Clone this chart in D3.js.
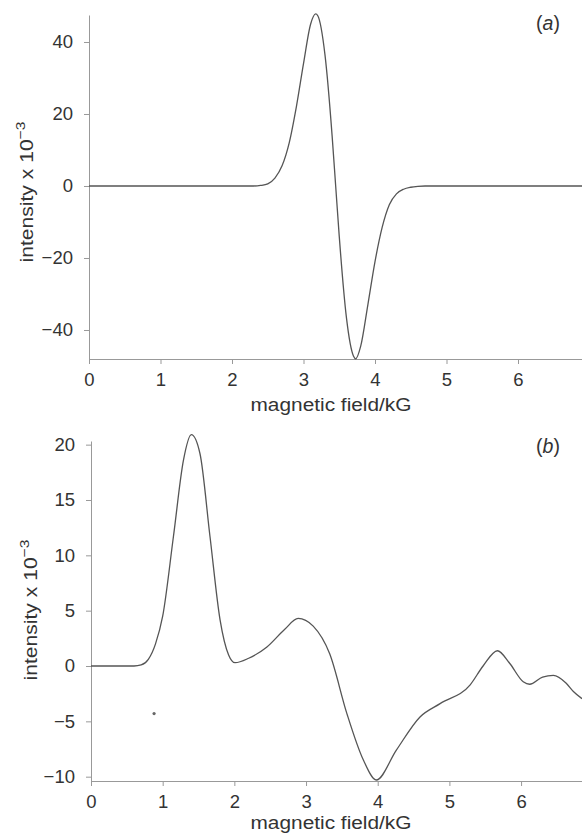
<!DOCTYPE html>
<html>
<head>
<meta charset="utf-8">
<script src="https://cdn.jsdelivr.net/npm/d3@7"></script>
<style>
  body { margin: 0; background: #fff; }
  svg { display: block; }
  text { font-family: "Liberation Sans", Arial, sans-serif; fill: #333; }
</style>
</head>
<body>
<svg id="chart" width="582" height="839"></svg>
<script>
// panel (a): single derivative line
const fieldA = [0, 1, 2, 2.3, 2.4, 2.5, 2.6, 2.7, 2.8, 2.9, 3.0, 3.1, 3.17, 3.2, 3.3, 3.4, 3.45,
                3.5, 3.6, 3.7, 3.73, 3.8, 3.9, 4.0, 4.1, 4.2, 4.3, 4.4, 4.5, 4.6, 4.7, 5, 6, 6.9];
const intensityA = [0, 0, 0, 0, 0.15, 0.6, 2.2, 5.6, 12, 22, 34, 45, 47.8, 47.3, 36.5, 14, 0,
                    -14, -36.5, -47.3, -48, -44.5, -33, -21, -11.5, -5.2, -2.2, -0.9, -0.35, -0.1, 0, 0, 0, 0];

// panel (b): composite spectrum
const fieldB = [0, 0.4, 0.6, 0.7, 0.8, 0.9, 1.0, 1.15, 1.29, 1.40, 1.52, 1.66, 1.8, 1.92, 2.01, 2.2, 2.45,
                2.7, 2.89, 3.1, 3.33, 3.57, 3.8, 3.98, 4.26, 4.59, 4.87, 5.29, 5.47, 5.67,
                5.84, 6.03, 6.12, 6.3, 6.45, 6.63, 6.73, 6.85];
const intensityB = [0, 0, 0, 0.1, 0.6, 2.0, 4.5, 11.7, 18.6, 20.9, 19.2, 11.7, 4.2, 1.0, 0.3, 0.7, 1.7,
                    3.3, 4.3, 3.6, 1.1, -4.3, -8.5, -10.3, -7.6, -4.6, -3.4, -1.7, 0.0, 1.38,
                    0.25, -1.42, -1.65, -1.0, -0.85, -1.56, -2.3, -2.95];

const ticksA = [-40, -20, 0, 20, 40];
const ticksB = [-10, -5, 0, 5, 10, 15, 20];
const fieldTicks = [0, 1, 2, 3, 4, 5, 6];

// a scanner speck in panel (b)
const speck = [{x: 0.88, y: -4.3}];

const svg = d3.select("#chart");

const panels = [
  {tag: "a", xs: fieldA, ys: intensityA, ticks: ticksA,
   x0: 89, top: 15, bottom: 359, xDom: [0, 6.895], yDom: [-48.06, 47.5],
   labelX: 33, labelY: 192, tagY: 30, xLabelY: 411},
  {tag: "b", xs: fieldB, ys: intensityB, ticks: ticksB,
   x0: 91, top: 441, bottom: 781, xDom: [0, 6.85], yDom: [-10.39, 20.33],
   labelX: 37, labelY: 610, tagY: 453, xLabelY: 829}
];

panels.forEach(p => {
  const x = d3.scaleLinear(p.xDom, [p.x0, 582]);
  const y = d3.scaleLinear(p.yDom, [p.bottom, p.top]);
  const g = svg.append("g");

  const xAxis = g.append("g")
    .attr("transform", "translate(0," + p.bottom + ")")
    .call(d3.axisBottom(x).tickValues(fieldTicks).tickFormat(d3.format("d"))
      .tickSize(5).tickPadding(9).tickSizeOuter(0));
  const yAxis = g.append("g")
    .attr("transform", "translate(" + p.x0 + ",0)")
    .call(d3.axisLeft(y).tickValues(p.ticks).tickFormat(d3.format("d"))
      .tickSize(5).tickPadding(11).tickSizeOuter(0));

  [xAxis, yAxis].forEach(a => {
    a.select(".domain").attr("stroke", "#999").attr("stroke-width", 1);
    a.selectAll(".tick line").attr("stroke", "#999");
    a.selectAll(".tick text").attr("font-size", 18.5).attr("fill", "#333")
      .attr("font-family", "'Liberation Sans', Arial, sans-serif");
  });

  const pts = p.xs.map((v, i) => [v, p.ys[i]]);
  g.append("path")
    .datum(pts)
    .attr("fill", "none")
    .attr("stroke", "#555")
    .attr("stroke-width", 1.3)
    .attr("d", d3.line().x(d => x(d[0])).y(d => y(d[1])).curve(d3.curveMonotoneX));

  g.append("text")
    .attr("x", 331).attr("y", p.xLabelY)
    .attr("text-anchor", "middle")
    .attr("font-size", 17.5)
    .attr("textLength", 161).attr("lengthAdjust", "spacingAndGlyphs")
    .text("magnetic field/kG");

  const yl = g.append("text")
    .attr("transform", "translate(" + p.labelX + "," + p.labelY + ") rotate(-90)")
    .attr("text-anchor", "middle")
    .attr("font-size", 17.5)
    .attr("textLength", 141).attr("lengthAdjust", "spacingAndGlyphs");
  yl.append("tspan").text("intensity x 10");
  yl.append("tspan").attr("dy", -8).attr("font-size", 13).text("−3");

  const t = g.append("text")
    .attr("x", 548).attr("y", p.tagY)
    .attr("text-anchor", "middle")
    .attr("font-size", 19.5);
  t.append("tspan").text("(");
  t.append("tspan").attr("font-style", "italic").text(p.tag);
  t.append("tspan").text(")");

  if (p.tag === "b") {
    g.selectAll("circle.speck").data(speck).join("circle")
      .attr("class", "speck")
      .attr("cx", d => x(d.x)).attr("cy", d => y(d.y))
      .attr("r", 1.6).attr("fill", "#666");
  }
});
</script>
</body>
</html>
